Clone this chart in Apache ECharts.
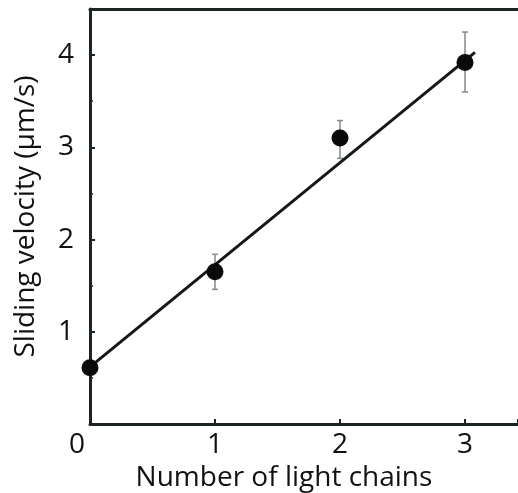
<!DOCTYPE html>
<html><head><meta charset="utf-8">
<script src="https://cdn.jsdelivr.net/npm/echarts@6/dist/echarts.min.js"></script>
<style>html,body{margin:0;padding:0;background:#fff}#c{width:518px;height:493px}</style>
</head><body><div id="c"></div>
<script>
const lightChains = [0, 1, 2, 3];
const velocity = [0.61, 1.65, 3.10, 3.92];
const errLow = [null, 1.46, 2.88, 3.60];
const errHigh = [null, 1.84, 3.29, 4.25];
const fitX = [0, 3.08];
const fitY = [0.62, 4.03];
const xTicks = [0, 1, 2, 3];
const yTicks = [1, 2, 3, 4];

const FONT = 'Open Sans';
const FS = 28;
const AX = '#1c2424';
const chart = echarts.init(document.getElementById('c'));
chart.setOption({
  animation: false,
  grid: {left: 90, right: 0, top: 9, bottom: 69, outerBoundsMode: 'none', containLabel: false},
  xAxis: [{
    type: 'value', min: 0, max: 3.424, interval: 1,
    name: 'Number of light chains', nameLocation: 'middle', nameGap: 37,
    nameTextStyle: {fontFamily: FONT, fontSize: FS, color: '#111', padding: [0, 40, 0, 0]},
    axisLine: {show: true, onZero: false, lineStyle: {color: AX, width: 3}},
    axisTick: {show: true, inside: true, length: 5, lineStyle: {color: AX, width: 2}},
    splitLine: {show: false},
    axisLabel: {
      fontFamily: FONT, fontSize: FS, color: '#111', margin: 7,
      formatter: v => xTicks.includes(v) ? (v === 0 ? '{z|0}' : String(v)) : '',
      rich: {z: {fontFamily: FONT, fontSize: FS, color: '#111', padding: [0, 26, 0, 0]}}
    }
  }, {
    type: 'value', position: 'top', min: 0, max: 3.424,
    axisLine: {show: true, onZero: false, lineStyle: {color: AX, width: 3}},
    axisTick: {show: false}, axisLabel: {show: false}, splitLine: {show: false}
  }],
  yAxis: {
    type: 'value', min: 0, max: 4.5, interval: 1,
    name: 'Sliding velocity (μm/s)', nameLocation: 'middle', nameGap: 50,
    nameTextStyle: {fontFamily: FONT, fontSize: FS, color: '#111'},
    axisLine: {show: true, onZero: false, lineStyle: {color: AX, width: 3}},
    axisTick: {show: true, inside: true, length: 5, lineStyle: {color: AX, width: 2}},
    minorTick: {show: true, splitNumber: 2, length: 3, lineStyle: {color: AX, width: 1.5}},
    splitLine: {show: false},
    axisLabel: {fontFamily: FONT, fontSize: FS, color: '#111', margin: 16,
      formatter: v => yTicks.includes(v) ? String(v) : ''}
  },
  series: [{
    type: 'custom',
    data: lightChains.map((x, i) => [x, errLow[i], errHigh[i]]).filter(d => d[1] != null),
    renderItem: (params, api) => {
      const lo = api.coord([api.value(0), api.value(1)]);
      const hi = api.coord([api.value(0), api.value(2)]);
      const w = 3;
      const st = {stroke: '#8a9090', lineWidth: 1.6};
      return {type: 'group', children: [
        {type: 'line', shape: {x1: lo[0], y1: lo[1], x2: hi[0], y2: hi[1]}, style: st},
        {type: 'line', shape: {x1: lo[0]-w, y1: lo[1], x2: lo[0]+w, y2: lo[1]}, style: st},
        {type: 'line', shape: {x1: hi[0]-w, y1: hi[1], x2: hi[0]+w, y2: hi[1]}, style: st}
      ]};
    },
    z: 1
  }, {
    type: 'line', data: fitX.map((x, i) => [x, fitY[i]]), showSymbol: false,
    lineStyle: {color: '#141818', width: 3}, z: 2
  }, {
    type: 'scatter', data: lightChains.map((x, i) => [x, velocity[i]]),
    symbolSize: 17, itemStyle: {color: '#0a0a0a', opacity: 1}, z: 3
  }]
});
</script></body></html>
